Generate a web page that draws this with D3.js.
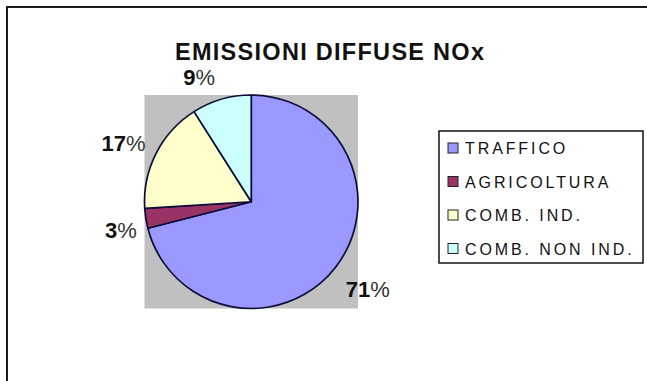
<!DOCTYPE html>
<html>
<head>
<meta charset="utf-8">
<script src="https://cdn.jsdelivr.net/npm/d3@7"></script>
<style>
  body { margin: 0; background: #fff; }
  text { font-family: "Liberation Sans", Arial, sans-serif; }
</style>
</head>
<body>
<div id="chart"></div>
<script>
// data
const categories = ["TRAFFICO", "AGRICOLTURA", "COMB. IND.", "COMB. NON IND."];
const shares = [71, 3, 17, 9];
const sliceColors = ["#9999ff", "#993366", "#ffffcc", "#ccffff"];
const chartTitle = "EMISSIONI DIFFUSE NOx";

const width = 647;
const height = 381;

const svg = d3
  .select("#chart")
  .append("svg")
  .attr("width", width)
  .attr("height", height);

// outer chart frame (runs off the right and bottom edge)
svg
  .append("rect")
  .attr("x", 7)
  .attr("y", 7)
  .attr("width", 700)
  .attr("height", 420)
  .attr("fill", "#fff")
  .attr("stroke", "#1c1c1c")
  .attr("stroke-width", 2);

// title
svg
  .append("text")
  .attr("x", 175)
  .attr("y", 59.5)
  .attr("font-size", 23.5)
  .attr("font-weight", "bold")
  .attr("textLength", 309)
  .attr("lengthAdjust", "spacing")
  .attr("fill", "#111")
  .text(chartTitle);

// plot area
const plot = { x: 144.5, y: 95, size: 213.5 };
const cx = plot.x + plot.size / 2;
const cy = plot.y + plot.size / 2;
const radius = plot.size / 2;

svg
  .append("rect")
  .attr("x", plot.x)
  .attr("y", plot.y)
  .attr("width", plot.size)
  .attr("height", plot.size)
  .attr("fill", "#c0c0c0");

const color = d3.scaleOrdinal().domain(categories).range(sliceColors);

const pie = d3
  .pie()
  .sort(null)
  .value((d) => d.value);

const slices = pie(categories.map((c, i) => ({ name: c, value: shares[i] })));

const arc = d3.arc().innerRadius(0).outerRadius(radius);
const labelArc = d3.arc().innerRadius(140).outerRadius(140);

const pieG = svg.append("g").attr("transform", `translate(${cx},${cy})`);

pieG
  .selectAll("path")
  .data(slices)
  .enter()
  .append("path")
  .attr("d", arc)
  .attr("fill", (d) => color(d.data.name))
  .attr("stroke", "#0d0d3a")
  .attr("stroke-width", 1.7)
  .attr("stroke-linejoin", "round");

// excel put its labels a bit off the mid angle
const labelShift = [
  [6, 1],
  [8, 6],
  [-3, 5],
  [-13, 10],
];

const total = d3.sum(shares);
const lbl = pieG
  .selectAll("text.pct")
  .data(slices)
  .enter()
  .append("text")
  .attr("class", "pct")
  .attr("font-size", 22)
  .attr("fill", "#111")
  .attr("text-anchor", "middle")
  .attr("dominant-baseline", "central")
  .attr("transform", function (d, i) {
    const c = labelArc.centroid(d);
    return `translate(${c[0] + labelShift[i][0]},${c[1] + labelShift[i][1]})`;
  });
lbl
  .append("tspan")
  .attr("font-weight", "bold")
  .text((d) => Math.round((d.data.value / total) * 100));
lbl
  .append("tspan")
  .attr("font-weight", "normal")
  .attr("fill", "#333")
  .text("%");

// legend
const legend = svg.append("g").attr("transform", "translate(439,131)");
legend
  .append("rect")
  .attr("width", 204)
  .attr("height", 132)
  .attr("fill", "#fff")
  .attr("stroke", "#111")
  .attr("stroke-width", 1.5);

const rowY = d3
  .scalePoint()
  .domain(categories)
  .range([17, 117.5]);

const rows = legend
  .selectAll("g.row")
  .data(categories)
  .enter()
  .append("g")
  .attr("class", "row")
  .attr("transform", (d) => `translate(0,${rowY(d)})`);

rows
  .append("rect")
  .attr("x", 9)
  .attr("y", -5)
  .attr("width", 10)
  .attr("height", 10)
  .attr("fill", (d) => color(d))
  .attr("stroke", "#222")
  .attr("stroke-width", 1);

rows
  .append("text")
  .attr("x", 26)
  .attr("y", 0.5)
  .attr("dominant-baseline", "central")
  .attr("font-size", 16)
  .attr("letter-spacing", 2.9)
  .attr("fill", "#111")
  .text((d) => d);
</script>
</body>
</html>
